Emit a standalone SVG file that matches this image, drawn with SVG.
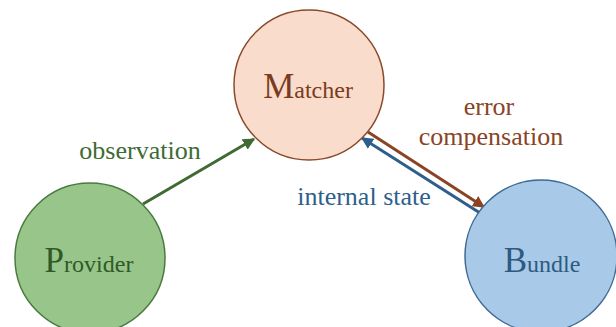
<svg xmlns="http://www.w3.org/2000/svg" width="616" height="327" viewBox="0 0 616 327">
<style>
text{font-family:"Liberation Serif","Times New Roman",serif}
.big{font-size:35px}
.sm{font-size:24px}
.lbl{font-size:26px}
</style>
<defs>
<marker id="ag" viewBox="0 0 10 10" refX="9" refY="5" markerWidth="4" markerHeight="4" orient="auto"><path d="M0,0L10,5L0,10z" fill="#3f6b33"/></marker>
<marker id="ab" viewBox="0 0 10 10" refX="9" refY="5" markerWidth="4" markerHeight="4" orient="auto"><path d="M0,0L10,5L0,10z" fill="#8a4424"/></marker>
<marker id="au" viewBox="0 0 10 10" refX="9" refY="5" markerWidth="4" markerHeight="4" orient="auto"><path d="M0,0L10,5L0,10z" fill="#2e5f8c"/></marker>
</defs>
<rect width="616" height="327" fill="#ffffff"/>
<g id="connectors" stroke-width="3" fill="none">
<line x1="143" y1="204" x2="254" y2="139" stroke="#3f6b33" marker-end="url(#ag)"/>
<line x1="368" y1="132" x2="484" y2="207" stroke="#8a4424" marker-end="url(#ab)"/>
<line x1="480" y1="213" x2="362" y2="138" stroke="#2e5f8c" marker-end="url(#au)"/>
</g>
<g id="matcher">
<circle cx="309" cy="85" r="75" fill="#f9dccb" stroke="#8a4a2c" stroke-width="1.5"/>
<text x="308" y="98" text-anchor="middle" fill="#7a3c20"><tspan class="big">M</tspan><tspan class="sm">atcher</tspan></text>
</g>
<g id="provider">
<circle cx="90" cy="258" r="75" fill="#97c58a" stroke="#4a7a40" stroke-width="1.5"/>
<text x="89" y="272" text-anchor="middle" fill="#2f5a28"><tspan class="big">P</tspan><tspan class="sm">rovider</tspan></text>
</g>
<g id="bundle">
<circle cx="541" cy="256" r="76" fill="#a8cae8" stroke="#3e6a94" stroke-width="1.5"/>
<text x="542" y="272" text-anchor="middle" fill="#2e5a82"><tspan class="big">B</tspan><tspan class="sm">undle</tspan></text>
</g>
<g id="labels">
<text class="lbl" x="140" y="159" text-anchor="middle" fill="#3d6b33">observation</text>
<text class="lbl" x="489" y="115" text-anchor="middle" fill="#8a4424">error</text>
<text class="lbl" x="491" y="145" text-anchor="middle" fill="#8a4424">compensation</text>
<text class="lbl" x="364" y="205" text-anchor="middle" fill="#2e5f8c">internal state</text>
</g>
</svg>
